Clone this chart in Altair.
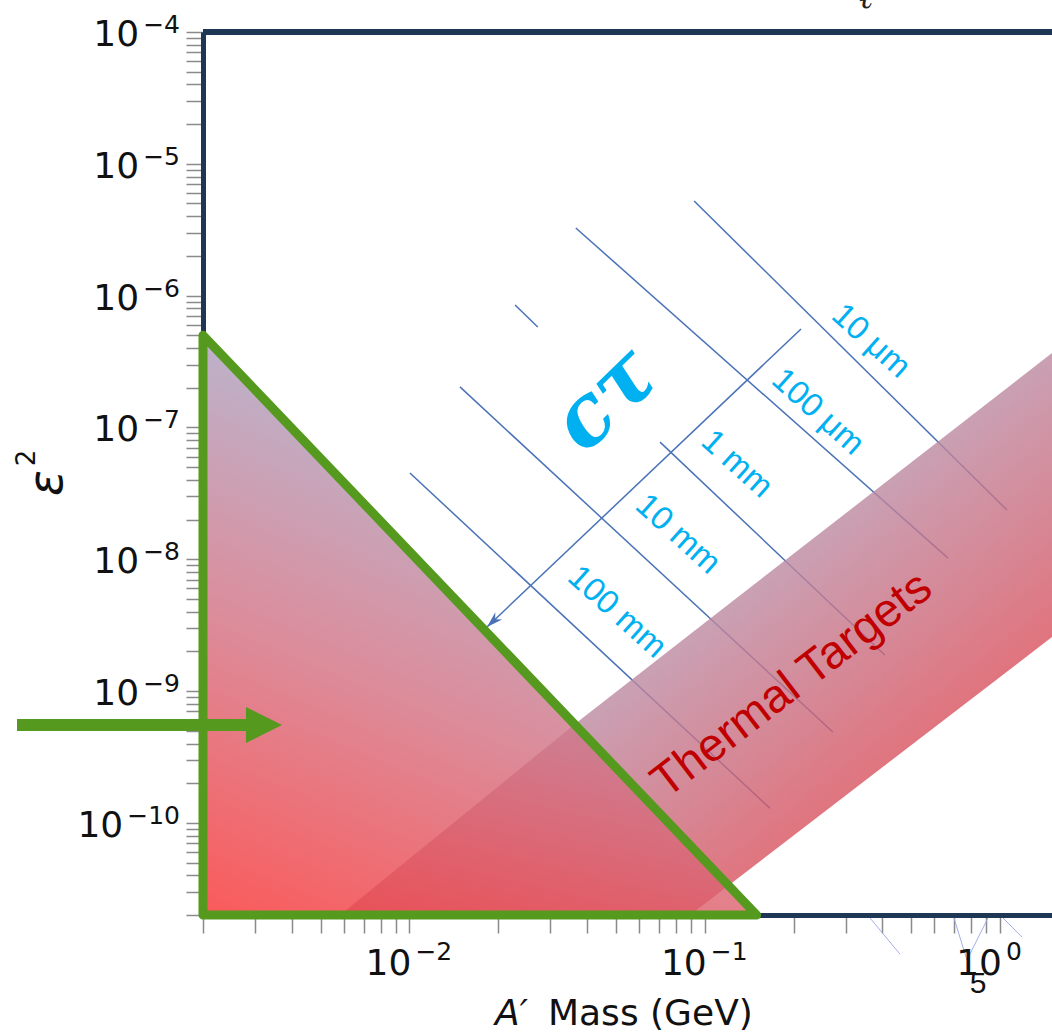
import altair as alt
import pandas as pd

# ---------------------------------------------------------------- palette
NAVY = "#1e3755"
GREEN = "#56991f"
LINE_BLUE = "#4a72b6"
CYAN = "#00b0f0"
DARK_RED = "#c00000"
TICK_GREY = "#8a8a8a"
INK = "#111111"

# ---------------------------------------------------------------- axes
mass_domain = [0.002, 1.5]          # A' mass (GeV)
eps2_domain = [2e-11, 1e-4]         # epsilon^2

x_tick_values = [m * 10.0 ** e for e in (-3, -2, -1) for m in range(1, 10)
                 if m * 10.0 ** e >= 0.002] + [1.0]
x_label_values = [1e-2, 1e-1, 1e0]
x_label_exponents = ["−2", "−1", "0"]

y_tick_values = [m * 10.0 ** e for e in range(-11, -4) for m in range(1, 10)
                 if m * 10.0 ** e >= 2e-11] + [1e-4]
y_label_values = [1e-10, 1e-9, 1e-8, 1e-7, 1e-6, 1e-5, 1e-4]
y_label_exponents = ["−10", "−9", "−8", "−7", "−6", "−5", "−4"]

# ---------------------------------------------------------------- regions
# excluded triangle (green outline)
tri_mass = [0.002, 0.15]
tri_eps2 = [5e-7, 2e-11]
floor_eps2 = 2e-11

# thermal-target band
band_mass = [0.00582, 0.0384, 0.0892, 1.5]
band_upper = [2e-11, 6.2e-10, 2.7e-9, 3.67e-7]
band_lower = [2e-11, 2e-11, 2e-11, 2.57e-9]

# constant c*tau contours (segments)
ctau_line_mass = [[0.0921, 1.056], [0.0366, 0.667], [0.0228, 0.0272],
                  [0.0706, 0.408], [0.01483, 0.2716], [0.01004, 0.1663]]
ctau_line_eps2 = [[5.22e-6, 2.36e-8], [3.26e-6, 1.02e-8], [8.5e-7, 5.78e-7],
                  [7.74e-8, 1.87e-9], [2.03e-7, 4.89e-10], [4.51e-8, 1.29e-10]]

ctau_labels = ["10 μm", "100 μm", "1 mm", "10 mm", "100 mm"]
ctau_label_mass = [0.3656, 0.2418, 0.1286, 0.0812, 0.0505]
ctau_label_eps2 = [4.52e-7, 1.31e-7, 5.28e-8, 1.55e-8, 3.98e-9]

# arrow across the contours
ctau_arrow_mass = [0.2119, 0.01831]
ctau_arrow_eps2 = [5.58e-7, 3.06e-9]

# stray strokes below the mass axis
stray_mass = [[0.3628, 0.4584], [0.6984, 0.7729, 0.9106], [1.0235, 1.187]]
stray_eps2 = [[1.9e-11, 1.01e-11], [1.9e-11, 9.1e-12, 1.9e-11], [1.9e-11, 1.36e-11]]

# green pointer arrow
pointer_mass = [4.69e-4, 2.796e-3, 3.703e-3]
pointer_eps2 = 5.52e-10
pointer_head_top = 7.56e-10
pointer_head_bottom = 4.03e-10

ctau_symbol_pos = (0.0463, 1.61e-7)
thermal_pos = (0.1975, 1.11e-9)

LABEL_FONT = "DejaVu Sans"
BASE_SIZE = 36
EXP_SIZE = 25

x_axis = alt.Axis(values=x_tick_values, labels=False, title=None, grid=False,
                  domainColor=NAVY, domainWidth=5,
                  tickColor=TICK_GREY, tickWidth=1.5, tickSize=18)
y_axis = alt.Axis(values=y_tick_values, labels=False, title=None, grid=False,
                  domainColor=NAVY, domainWidth=5,
                  tickColor=TICK_GREY, tickWidth=1.5, tickSize=17)
x_scale = alt.Scale(type="log", domain=mass_domain, nice=False)
y_scale = alt.Scale(type="log", domain=eps2_domain, nice=False)


def X(field):
    return alt.X(field, type="quantitative", scale=x_scale, axis=x_axis)


def Y(field):
    return alt.Y(field, type="quantitative", scale=y_scale, axis=y_axis)


# ---------------------------------------------------------------- tables
def segment_table(mass_lists, eps_lists):
    rows = []
    for i, (ms, es) in enumerate(zip(mass_lists, eps_lists)):
        for j, (m, e) in enumerate(zip(ms, es)):
            rows.append({"seg": i, "ord": j, "m": m, "e": e})
    return pd.DataFrame(rows)


ctau_df = segment_table(ctau_line_mass, ctau_line_eps2)
stray_df = segment_table(stray_mass, stray_eps2)

arrow_df = pd.DataFrame({"m": ctau_arrow_mass, "e": ctau_arrow_eps2})
arrow_tip_df = pd.DataFrame({"m": [ctau_arrow_mass[1]], "e": [ctau_arrow_eps2[1]]})

band_df = pd.DataFrame({"m": band_mass, "upper": band_upper, "lower": band_lower})
tri_df = pd.DataFrame({"m": tri_mass, "top": tri_eps2, "floor": [floor_eps2] * 2})
outline_df = pd.DataFrame({
    "m": [tri_mass[0], tri_mass[0], tri_mass[1], tri_mass[0]],
    "e": [floor_eps2, tri_eps2[0], tri_eps2[1], floor_eps2],
    "ord": [0, 1, 2, 3],
})
frame_df = pd.DataFrame({"e": [eps2_domain[1]]})
shaft_df = pd.DataFrame({"m": [pointer_mass[0]], "m2": [pointer_mass[1]], "e": [pointer_eps2]})
head_df = pd.DataFrame({"m": pointer_mass[1:],
                        "top": [pointer_head_top, pointer_eps2],
                        "bottom": [pointer_head_bottom, pointer_eps2]})
ctau_label_df = pd.DataFrame({"m": ctau_label_mass, "e": ctau_label_eps2, "t": ctau_labels})
symbol_df = pd.DataFrame({"m": [ctau_symbol_pos[0]], "e": [ctau_symbol_pos[1]], "t": ["cτ"]})
thermal_df = pd.DataFrame({"m": [thermal_pos[0]], "e": [thermal_pos[1]], "t": ["Thermal Targets"]})
x_lab_df = pd.DataFrame({"m": x_label_values, "exp": x_label_exponents, "base": ["10"] * 3})
y_lab_df = pd.DataFrame({"e": y_label_values, "exp": y_label_exponents, "base": ["10"] * 7})

# ---------------------------------------------------------------- layers
ctau_lines = alt.Chart(ctau_df).mark_line(color=LINE_BLUE, strokeWidth=1.5).encode(
    x=X("m"), y=Y("e"), detail="seg:N", order="ord:O")

stray_lines = alt.Chart(stray_df).mark_line(color="#a6aee8", strokeWidth=1).encode(
    x=X("m"), y=Y("e"), detail="seg:N", order="ord:O")

ctau_arrow = alt.Chart(arrow_df).mark_line(color=LINE_BLUE, strokeWidth=1.5).encode(
    x=X("m"), y=Y("e"))

ctau_arrow_tip = alt.Chart(arrow_tip_df).mark_point(
    shape="M0,0L0.55,1.8L0,1.25L-0.55,1.8Z", filled=True, size=324, angle=226.5,
    color=LINE_BLUE, opacity=1).encode(x=X("m"), y=Y("e"))

band_fill = alt.Gradient(
    gradient="linear", x1=0, y1=0, x2=1, y2=1,
    stops=[alt.GradientStop(offset=0.5, color="#bc88a0"),
           alt.GradientStop(offset=0.76, color="#d9505c")])
band = alt.Chart(band_df).mark_area(color=band_fill, opacity=0.8).encode(
    x=X("m"), y=Y("upper"), y2="lower:Q")

tri_fill = alt.Gradient(
    gradient="linear", x1=0, y1=1, x2=0.4, y2=0,
    stops=[alt.GradientStop(offset=0.0, color="#f93131"),
           alt.GradientStop(offset=0.45, color="#d36f81"),
           alt.GradientStop(offset=0.88, color="#aaa1c0")])
triangle = alt.Chart(tri_df).mark_area(color=tri_fill, opacity=0.8).encode(
    x=X("m"), y=Y("top"), y2="floor:Q")

outline = alt.Chart(outline_df).mark_line(
    color=GREEN, strokeWidth=9, strokeJoin="round", strokeCap="round").encode(
    x=X("m"), y=Y("e"), order="ord:O")

top_frame = alt.Chart(frame_df).mark_rule(color=NAVY, strokeWidth=6).encode(y=Y("e"))

shaft = alt.Chart(shaft_df).mark_rule(color=GREEN, strokeWidth=12).encode(
    x=X("m"), x2="m2:Q", y=Y("e"))
head = alt.Chart(head_df).mark_area(color=GREEN, opacity=1).encode(
    x=X("m"), y=Y("top"), y2="bottom:Q")

ctau_text = alt.Chart(ctau_label_df).mark_text(
    font="Liberation Sans", fontSize=33, color=CYAN, angle=42,
    align="center", baseline="middle").encode(x=X("m"), y=Y("e"), text="t:N")

symbol_text = alt.Chart(symbol_df).mark_text(
    font="DejaVu Serif", fontStyle="italic", fontWeight="bold", fontSize=84, color=CYAN,
    angle=316, align="center", baseline="middle").encode(x=X("m"), y=Y("e"), text="t:N")

thermal_text = alt.Chart(thermal_df).mark_text(
    font="Liberation Sans", fontSize=47, color=DARK_RED, angle=322.5,
    align="center", baseline="middle").encode(x=X("m"), y=Y("e"), text="t:N")

# decade labels: "10" with a raised exponent
x_lab_base = alt.Chart(x_lab_df).mark_text(
    font=LABEL_FONT, fontSize=BASE_SIZE, color=INK, align="right", baseline="alphabetic",
    dx=2).encode(x=X("m"), y=alt.value(943), text="base:N")
x_lab_exp = alt.Chart(x_lab_df).mark_text(
    font=LABEL_FONT, fontSize=EXP_SIZE, color=INK, align="left", baseline="alphabetic",
    dx=6).encode(x=X("m"), y=alt.value(928), text="exp:N")

y_lab_exp = alt.Chart(y_lab_df).mark_text(
    font=LABEL_FONT, fontSize=EXP_SIZE, color=INK, align="right", baseline="alphabetic",
    dy=1).encode(x=alt.value(-23), y=Y("e"), text="exp:N")
y_lab_base = alt.Chart(y_lab_df).transform_calculate(
    bx=f"-23 - {EXP_SIZE} * (0.838 + 0.636 * (length(datum.exp) - 1)) - 4"
).mark_text(
    font=LABEL_FONT, fontSize=BASE_SIZE, color=INK, align="right", baseline="alphabetic",
    dy=14).encode(x=alt.X("bx:Q", scale=None), y=Y("e"), text="base:N")

# axis titles and page furniture (pixel positions relative to the plot area)
title_df = pd.DataFrame({"t": ["A′", "Mass (GeV)", "ε", "2", "5", "ℓ"]})


def fixed_text(label, px, py, **kw):
    return alt.Chart(title_df).transform_filter(
        alt.datum.t == label).mark_text(**kw).encode(
        x=alt.value(px), y=alt.value(py), text="t:N")


x_title_a = fixed_text("A′", 292, 993, font="DejaVu Sans", fontStyle="italic", fontSize=36,
                       align="left", baseline="alphabetic", color=INK)
x_title_b = fixed_text("Mass (GeV)", 345, 993, font="DejaVu Sans", fontSize=36,
                       align="left", baseline="alphabetic", color=INK)
y_title_eps = fixed_text("ε", -155, 451, font="DejaVu Sans", fontStyle="italic", fontSize=48,
                         angle=270, align="center", baseline="middle", color=INK)
y_title_sq = fixed_text("2", -176, 426, font="DejaVu Sans", fontSize=26,
                        angle=270, align="center", baseline="middle", color=INK)
page_no = fixed_text("5", 775, 952, font="Liberation Sans", fontSize=30,
                     align="center", baseline="middle", color=INK)
top_glyph = fixed_text("ℓ", 663, -24, font="DejaVu Serif", fontStyle="italic", fontSize=34,
                       align="center", baseline="alphabetic", color="#222222")

chart = alt.layer(
    ctau_lines, stray_lines, ctau_arrow, ctau_arrow_tip,
    band, triangle, outline, top_frame, shaft, head,
    ctau_text, symbol_text, thermal_text,
    x_lab_base, x_lab_exp, y_lab_exp, y_lab_base,
    x_title_a, x_title_b, y_title_eps, y_title_sq, page_no, top_glyph,
).properties(
    width=849, height=883,
    padding={"left": 203, "top": 32, "right": 0, "bottom": 117},
    autosize=alt.AutoSizeParams(type="none"),
).configure(background="white").configure_view(strokeWidth=0)

chart.save("out.html", embed_options={"renderer": "svg", "actions": False})
